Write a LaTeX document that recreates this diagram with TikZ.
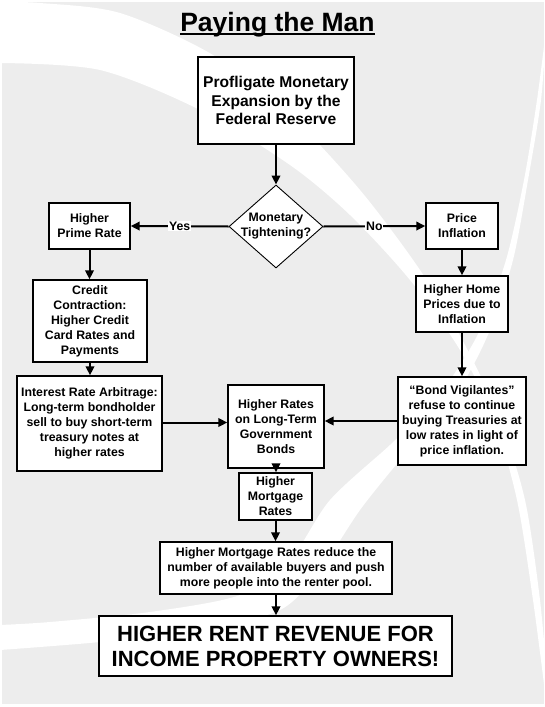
\documentclass[tikz,border=0pt]{standalone}
\usepackage{fontspec}
\setmainfont{Liberation Sans}
\usetikzlibrary{arrows.meta,shapes.geometric,calc}
\definecolor{bggray}{HTML}{EDEDED}
\newcommand{\bodyf}{\fontsize{12.3}{15}\selectfont\bfseries}
\tikzset{
  box/.style={draw=black, line width=1.4pt, fill=white, align=center, font=\bodyf, inner sep=1pt},
  arr/.style={line width=2pt, -{Triangle[length=9pt,width=8.5pt]}},
  lbl/.style={fill=white, inner sep=0.8pt, font=\bodyf},
}
\begin{document}
\begin{tikzpicture}[x=1pt,y=-1pt]
\useasboundingbox (0,0) rectangle (544,707);
% background
\fill[white] (0,0) rectangle (544,707);
\fill[bggray] (2,2) rectangle (544,704);
\fill[white] plot[smooth] coordinates {(0,2) (40,3) (120,13) (213,55) (290,115) (360,190) (420,270) (465,345) (500,420) (525,500) (540,600) (548,690)}
  -- plot[smooth] coordinates {(546,700) (533,600) (517,500) (494,420) (460,350) (410,280) (350,215) (290,165) (200,110) (100,70) (0,63)} -- cycle;
\fill[white] plot[smooth] coordinates {(546,30) (541,100) (528,180) (513,260) (490,330) (462,385) (430,425) (400,460) (360,510) (320,570) (280,610) (200,630) (100,642) (0,650)}
  -- plot[smooth] coordinates {(0,625) (50,622) (150,612) (240,595) (290,560) (330,500) (390,445) (420,415) (450,380) (480,330) (506,260) (524,180) (537,100) (546,30)} -- cycle;
% title
\node[font=\fontsize{26.5}{30}\selectfont\bfseries, inner sep=0, anchor=base] (title) at (277.5,31.7) {Paying the Man};
\draw[line width=1.9pt] ([yshift=-2.6pt]title.base west) -- ([yshift=-2.6pt]title.base east);
% nodes
\node[box, font=\fontsize{15.6}{18.5}\selectfont\bfseries, minimum width=156pt, minimum height=87pt] (fed) at (276,100.5) {Profligate Monetary\\Expansion by the\\Federal Reserve};
\node[diamond, draw=black, line width=0.9pt, fill=white, minimum width=94pt, minimum height=83pt, inner sep=0] (dia) at (276,226.5) {};
\node[font=\bodyf, align=center, inner sep=0] (diatext) at (dia.center) {Monetary\\Tightening?};
\node[box, minimum width=81pt, minimum height=46pt] (prime) at (89.5,226) {Higher\\Prime Rate};
\node[box, minimum width=72pt, minimum height=46pt] (price) at (462,226) {Price\\Inflation};
\node[box, minimum width=114pt, minimum height=82pt] (credit) at (90,321) {Credit\\Contraction:\\Higher Credit\\Card Rates and\\Payments};
\node[box, minimum width=92pt, minimum height=56pt] (home) at (462,304) {Higher Home\\Prices due to\\Inflation};
\node[box, minimum width=145pt, minimum height=95pt] (arb) at (89.5,423.5) {Interest Rate Arbitrage:\\Long-term bondholder\\sell to buy short-term\\treasury notes at\\higher rates};
\node[box, minimum width=96pt, minimum height=83pt] (hr) at (276,426.5) {Higher Rates\\on Long-Term\\Government\\Bonds};
\node[box, minimum width=128pt, minimum height=88pt] (bond) at (462,421) {“Bond Vigilantes”\\refuse to continue\\buying Treasuries at\\low rates in light of\\price inflation.};
\node[box, minimum width=73pt, minimum height=47pt] (mort) at (275.5,496.5) {Higher\\Mortgage\\Rates};
\node[box, minimum width=232pt, minimum height=52pt] (reduce) at (276,568) {Higher Mortgage Rates reduce the\\number of available buyers and push\\more people into the renter pool.};
\node[box, font=\fontsize{22}{25}\selectfont\bfseries, minimum width=353pt, minimum height=60pt] (final) at (275.5,646) {HIGHER RENT REVENUE FOR\\INCOME PROPERTY OWNERS!};
% connectors
\draw[arr] (fed.south) -- (dia.north);
\draw[arr] (dia.west) -- node[lbl] (yes) {Yes} (prime.east);
\draw[arr] (dia.east) -- node[lbl] (no) {No} (price.west);
\draw[arr] (prime.south) -- (credit.north -| prime.south);
\draw[arr] (credit.south) -- (arb.north -| credit.south);
\draw[arr] (price.south) -- (home.north);
\draw[arr] (home.south) -- (bond.north);
\draw[arr] ([yshift=1pt]arb.east) -- ([yshift=1pt]arb.east -| hr.west);
\draw[arr] (bond.west) -- (bond.west -| hr.east);
\draw[arr] (hr.south) -- (mort.north -| hr.south);
\draw[arr] (mort.south) -- (reduce.north -| mort.south);
\draw[arr] (reduce.south) -- (final.north -| reduce.south);
\end{tikzpicture}
\end{document}
